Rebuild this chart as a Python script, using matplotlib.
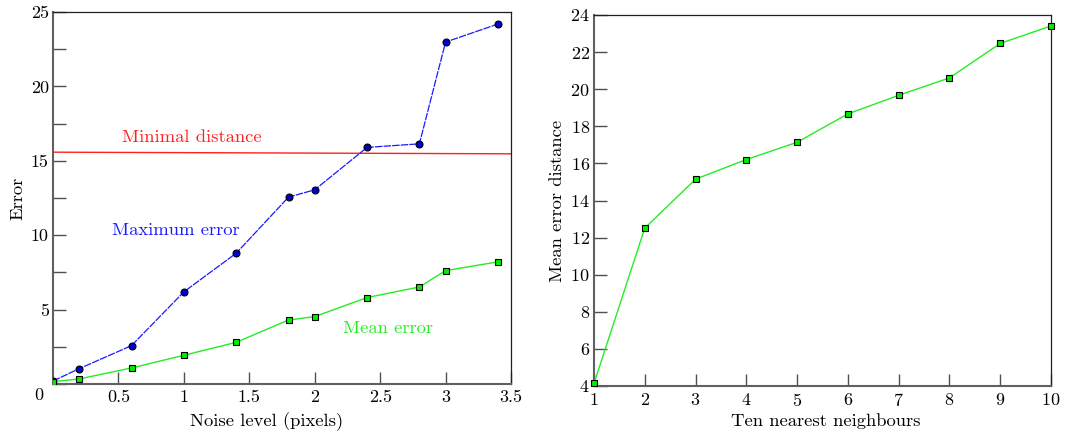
import matplotlib
matplotlib.use("Agg")
import matplotlib.pyplot as plt

plt.rcParams['font.family'] = 'serif'
plt.rcParams['font.serif'] = ['cmr10']
plt.rcParams['mathtext.fontset'] = 'cm'
plt.rcParams['axes.formatter.use_mathtext'] = True

# ---- data: left panel ----
noise = [0.0, 0.2, 0.6, 1.0, 1.4, 1.8, 2.0, 2.4, 2.8, 3.0, 3.4]
max_error = [0.2, 1.03, 2.58, 6.19, 8.79, 12.56, 13.05, 15.9, 16.14, 22.98, 24.19]
mean_error = [0.16, 0.34, 1.08, 1.93, 2.80, 4.30, 4.53, 5.81, 6.52, 7.62, 8.21]
min_dist_x = [0.0, 3.5]
min_dist_y = [15.58, 15.47]
left_xticks = [0.5, 1, 1.5, 2, 2.5, 3, 3.5]
left_xticklabels = ['0.5', '1', '1.5', '2', '2.5', '3', '3.5']
left_yticks = [0, 2.5, 5, 7.5, 10, 12.5, 15, 17.5, 20, 22.5, 25]
left_yticklabels = ['', '', '5', '', '10', '', '15', '', '20', '', '25']

# ---- data: right panel ----
neighbours = [1, 2, 3, 4, 5, 6, 7, 8, 9, 10]
mean_err_dist = [4.14, 12.51, 15.15, 16.21, 17.14, 18.67, 19.67, 20.61, 22.47, 23.41]
right_yticks = [4, 6, 8, 10, 12, 14, 16, 18, 20, 22, 24]

TICK_FS = 13
LABEL_FS = 13.4

fig = plt.figure(figsize=(10.8, 4.32), dpi=100)
ax1 = fig.add_axes([53/1080, 48/432, 458/1080, 372/432])
ax2 = fig.add_axes([594/1080, 46/432, 457/1080, 371/432])

def style(ax):
    for s in ['left', 'bottom']:
        ax.spines[s].set_color('#606060')
        ax.spines[s].set_linewidth(1.5)
    for s in ['top', 'right']:
        ax.spines[s].set_color('#202020')
        ax.spines[s].set_linewidth(0.9)
    ax.tick_params(direction='in', length=9, width=1.0, color='#505050',
                   labelsize=TICK_FS, top=False, right=False)
    ax.tick_params(axis='y', pad=3)
    ax.tick_params(axis='x', pad=4)

# left
ax1.plot(min_dist_x, min_dist_y, color='#ff2020', lw=1.0, zorder=1)
ax1.plot(noise, max_error, color='#1a1aff', lw=0.9, linestyle=(0, (6, 0.9)),
         marker='o', markersize=5.0, markerfacecolor='#0000cc',
         markeredgecolor='black', markeredgewidth=0.8, zorder=3)
ax1.plot(noise, mean_error, color='#22ee22', lw=1.0,
         marker='s', markersize=4.6, markerfacecolor='#00ee00',
         markeredgecolor='black', markeredgewidth=0.8, zorder=3)
ax1.set_xlim(0, 3.5)
ax1.set_ylim(0, 25)
ax1.set_xticks(left_xticks)
ax1.set_xticklabels(left_xticklabels)
ax1.set_yticks(left_yticks)
ax1.set_yticklabels(left_yticklabels)
ax1.text(-0.022, -0.03, '0', transform=ax1.transAxes, ha='right', va='center',
         fontsize=TICK_FS)
ax1.text(1.06, 16.55, 'Minimal distance', color='#ff2020', fontsize=LABEL_FS,
         ha='center', va='center')
ax1.text(0.94, 10.3, 'Maximum error', color='#1a1aff', fontsize=LABEL_FS,
         ha='center', va='center')
ax1.text(2.56, 3.75, 'Mean error', color='#22ee22', fontsize=LABEL_FS,
         ha='center', va='center')
ax1.set_xlabel('Noise level (pixels)', fontsize=LABEL_FS)
ax1.xaxis.set_label_coords(0.467, -0.075)
ax1.set_ylabel('Error', fontsize=LABEL_FS, labelpad=4)
style(ax1)

# right
ax2.plot(neighbours, mean_err_dist, color='#22ee22', lw=1.0,
         marker='s', markersize=4.6, markerfacecolor='#00ee00',
         markeredgecolor='black', markeredgewidth=0.8, zorder=3, clip_on=False)
ax2.set_xlim(1, 10)
ax2.set_ylim(4, 24)
ax2.set_xticks(neighbours)
ax2.set_yticks(right_yticks)
ax2.set_xlabel('Ten nearest neighbours', fontsize=LABEL_FS)
ax2.xaxis.set_label_coords(0.508, -0.073)
ax2.set_ylabel('Mean error distance', fontsize=LABEL_FS, labelpad=4)
style(ax2)

fig.savefig('out.png', dpi=100)
